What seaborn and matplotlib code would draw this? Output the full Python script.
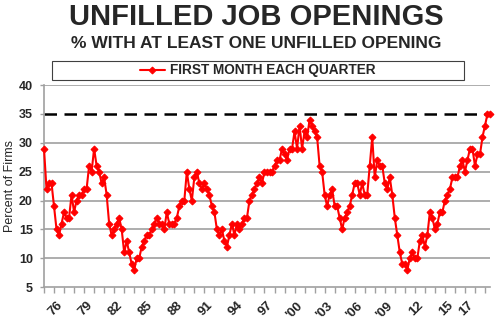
import numpy as np
import pandas as pd
import matplotlib
matplotlib.use("Agg")
import matplotlib.pyplot as plt
import matplotlib.transforms as mtransforms
from matplotlib.patches import Rectangle
import seaborn as sns

# Quarterly values, first month of each quarter, 1974 Q1 onward
first_year = 1974
values = [
    29, 22, 23, 23, 19, 15, 14, 16, 18, 17, 17, 21, 18, 20, 21, 21,
    22, 22, 26, 25, 29, 26, 25, 23, 24, 21, 16, 14, 15, 16, 17, 15,
    11, 13, 11, 9, 8, 10, 10, 12, 13, 14, 14, 15, 16, 17, 16, 16,
    15, 18, 16, 16, 16, 17, 19, 20, 20, 25, 22, 20, 24, 25, 23, 22,
    23, 22, 21, 19, 18, 15, 14, 15, 13, 12, 14, 16, 14, 16, 15, 16,
    17, 17, 20, 21, 22, 23, 24, 23, 25, 25, 25, 25, 26, 27, 27, 29,
    28, 27, 29, 29, 32, 29, 33, 29, 32, 31, 34, 33, 32, 31, 26, 25,
    21, 19, 21, 22, 19, 19, 17, 15, 17, 18, 19, 21, 23, 23, 21, 23,
    21, 21, 26, 31, 24, 27, 26, 26, 23, 22, 24, 21, 17, 14, 11, 9,
    9, 8, 10, 11, 10, 10, 13, 14, 12, 14, 18, 17, 15, 16, 18, 18,
    20, 21, 22, 24, 24, 24, 26, 27, 25, 27, 29, 29, 26, 28, 28, 31,
    33, 35, 35,
]
label_years = [1976, 1979, 1982, 1985, 1988, 1991, 1994, 1997, 2000,
               2003, 2006, 2009, 2012, 2015, 2017]
tick_labels = ["76", "79", "82", "85", "88", "91", "94", "97", "'00",
               "'03", "'06", "'09", "12", "15", "17"]
y_ticks = [5, 10, 15, 20, 25, 30, 35, 40]
reference_level = 35
series_name = "FIRST MONTH EACH QUARTER"

df = pd.DataFrame({"quarter": np.arange(len(values)), "value": values})

sns.set_theme(style="white")
plt.rcParams["font.family"] = ["Liberation Sans", "DejaVu Sans"]

fig = plt.figure(figsize=(5.0, 3.3), dpi=100)
ax = fig.add_axes([0.088, 0.130, 0.892, 0.612])

grid_col = "#a0a0a0"
for v in y_ticks[1:-2] + [y_ticks[-1]]:
    ax.axhline(v, color=grid_col, lw=1.2, zorder=1)
ax.axhline(reference_level, color="black", lw=1.8, ls=(0, (5, 3)), zorder=2)

sns.lineplot(data=df, x="quarter", y="value", ax=ax, color="#ff0000",
             lw=1.5, marker="D", markersize=3.5, markeredgecolor="#ff0000",
             label=series_name, zorder=3, clip_on=False)

ax.set_xlim(0, len(values) - 1)
ax.set_ylim(y_ticks[0], y_ticks[-1])
ax.set_yticks(y_ticks)
ax.set_yticklabels([str(t) for t in y_ticks], fontweight="bold", fontsize=9)

major_pos = [(y - first_year) * 4 for y in label_years]
ax.set_xticks(major_pos)
ax.set_xticks(np.arange(0, len(values), 4), minor=True)
ax.tick_params(axis="x", which="both", direction="out", length=4,
               width=1, color=grid_col, bottom=True, pad=5)
ax.tick_params(axis="y", which="major", direction="out", length=3,
               width=1, color=grid_col, left=True, pad=5)
ax.set_xticklabels(tick_labels, rotation=45, ha="right", va="top",
                   rotation_mode="anchor", fontweight="bold", fontsize=9.5)
shift = mtransforms.ScaledTranslation(-8 / 100, 0, fig.dpi_scale_trans)
for tick in ax.xaxis.get_major_ticks():
    tick.label1.set_transform(tick.label1.get_transform() + shift)

ax.set_xlabel("")
ax.set_ylabel("Percent of Firms", fontsize=9, labelpad=2)

for s in ["top", "right"]:
    ax.spines[s].set_visible(False)
for s in ["left", "bottom"]:
    ax.spines[s].set_color(grid_col)
    ax.spines[s].set_linewidth(1.2)

# legend box (frame drawn separately so the entry is centred)
fig.patches.append(Rectangle((0.104, 0.758), 0.824, 0.057,
                             transform=fig.transFigure, facecolor="white",
                             edgecolor="#404040", lw=0.8, zorder=-5))
leg = ax.legend(loc="center", bbox_to_anchor=(0.516, 0.787),
                bbox_transform=fig.transFigure, frameon=False,
                prop={"weight": "bold", "size": 9.8},
                handlelength=1.8, handletextpad=0.4, borderpad=0.1)

fig.text(0.512, 0.948, "UNFILLED JOB OPENINGS", ha="center", va="center",
         fontsize=21, fontweight="bold")
fig.text(0.512, 0.869, "% WITH AT LEAST ONE UNFILLED OPENING", ha="center",
         va="center", fontsize=12.5, fontweight="bold")

fig.savefig("out.png", dpi=100)
